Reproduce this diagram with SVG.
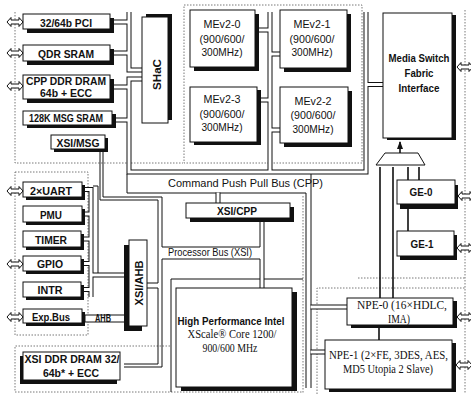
<svg xmlns="http://www.w3.org/2000/svg" width="471" height="394" viewBox="0 0 471 394">
<style>
.bx{fill:#fff;stroke:#111;stroke-width:1}
.sh{fill:#111}
.ln{fill:none;stroke:#111;stroke-width:1}
.bo{fill:none;stroke:#111;stroke-width:5}
.bi{fill:none;stroke:#fff;stroke-width:3}
.dot{fill:none;stroke:#555;stroke-width:0.8;stroke-dasharray:1.5 1.5}
.ar{fill:none;stroke:#111;stroke-width:1.6}
.tb{font-family:"Liberation Sans",Arial,sans-serif;font-weight:bold;font-size:11.5px;text-anchor:middle;fill:#111}
.tr{font-family:"Liberation Sans",Arial,sans-serif;font-size:11.5px;text-anchor:middle;fill:#111}
.ts{font-family:"Liberation Serif","Times New Roman",serif;font-size:12.5px;text-anchor:middle;fill:#111}
</style>
<defs>
<path id="dar" d="M0,0 L4,-4.5 V-2 H12 V-4.5 L16,0 L12,4.5 V2 H4 V4.5 Z" fill="#fff" stroke="#111" stroke-width="1"/>
<marker id="ah" markerUnits="userSpaceOnUse" markerWidth="6" markerHeight="8" refX="3" refY="1" orient="0" viewBox="0 0 6 8"><path d="M3,0 L6,8 L0,8 Z" fill="#111"/></marker>
</defs>
<rect width="471" height="394" fill="#fff"/>

<g id="frames">
<path class="dot" d="M15,12 V163 H183"/>
<rect class="dot" x="184" y="5" width="178" height="158"/>
<rect class="dot" x="15" y="172" width="73" height="163"/>
<path class="dot" d="M170,346 H15 V392 H171"/>
<path class="dot" d="M171,392 H303 M303,196 V394"/>
<path class="dot" d="M317,394 V288 H465"/>
<path class="dot" d="M358,278 H465 M465,10 V394"/>
</g>

<g id="connectors">
<path class="ln" d="M127,174 V193 H306 V388 M311,174 V388"/>
<path class="ln" d="M100,152 V200 H158 V283 H147 M147,288 H158 V364 H124 M124,367 H162 V259 H260 V288 M260,279 H171 V392 M103,152 V197 H162 V247 H260 V222 M264,222 V288 M264,279 H303 M93,186 H98 V273"/>
<g>
<path class="bo" d="M129,12 V70 H142 M114,22 H129 M114,53 H129 M142,79 H129 V172 H366 V12 M114,87 H129 M115,120 H129 M366,84.5 H383 M270,12 V172 M259,30 H270 M261,100 H270 M270,54 H280 M270,130 H280 M310.5,307 H347 M310.5,352 H325 M218,192.5 V203 M84,189.5 H91 V297 M84,214 H91 M84,239 H91 M84,263.5 H91 M84,289.5 H91 M91,275 H129"/>
<path class="bi" d="M129,12 V70 H142 M114,22 H129 M114,53 H129 M142,79 H129 V172 H366 V12 M114,87 H129 M115,120 H129 M366,84.5 H383 M270,12 V172 M259,30 H270 M261,100 H270 M270,54 H280 M270,130 H280 M310.5,307 H347 M310.5,352 H325 M218,192.5 V203 M84,189.5 H91 V297 M84,214 H91 M84,239 H91 M84,263.5 H91 M84,289.5 H91 M91,275 H129"/>
</g>
<path class="ar" d="M380,298 V167 M393,298 V167 M408,231 V167 M419,180 V167 M400,153 V142" marker-end="url(#ah)"/>
<path class="ar" d="M379,328 V340"/>
<polygon points="385,153 418,153 425,165 376,165" fill="#fff" stroke="#111" stroke-width="1"/>
<text class="tr" x="245.5" y="186.5" textLength="155" lengthAdjust="spacingAndGlyphs">Command Push Pull Bus (CPP)</text>
<text class="tr" x="210" y="256" font-size="10.5" textLength="84" lengthAdjust="spacingAndGlyphs">Processor Bus (XSI)</text>
</g>

<g id="pci"><rect class="sh" x="27" y="18" width="87" height="15"/><rect class="bx" x="23" y="14" width="87" height="15"/><text class="tb" x="66" y="26.5" textLength="52" lengthAdjust="spacingAndGlyphs">32/64b PCI</text><use href="#dar" x="7" y="22"/></g>
<g id="qdr"><rect class="sh" x="27" y="49" width="87" height="16"/><rect class="bx" x="23" y="45" width="87" height="16"/><text class="tb" x="66" y="57.5" textLength="56" lengthAdjust="spacingAndGlyphs">QDR SRAM</text><use href="#dar" x="7" y="53"/></g>
<g id="cppddr"><rect class="sh" x="27" y="79" width="87" height="24"/><rect class="bx" x="23" y="75" width="87" height="24"/><text class="tb" x="66" y="84.5" textLength="80" lengthAdjust="spacingAndGlyphs">CPP DDR DRAM</text><text class="tb" x="66" y="97" textLength="52" lengthAdjust="spacingAndGlyphs">64b + ECC</text><use href="#dar" x="7" y="86"/></g>
<g id="msgsram"><rect class="sh" x="27" y="114" width="89" height="14"/><rect class="bx" x="23" y="111" width="89" height="14"/><text class="tb" x="66" y="122" font-size="11" textLength="74" lengthAdjust="spacingAndGlyphs">128K MSG SRAM</text></g>
<g id="xsimsg"><rect class="sh" x="54" y="138" width="54" height="14"/><rect class="bx" x="51" y="135" width="54" height="14"/><text class="tb" x="78" y="146.5" textLength="43" lengthAdjust="spacingAndGlyphs">XSI/MSG</text></g>
<g id="shac"><rect class="sh" x="146" y="14" width="26" height="106"/><rect class="bx" x="142" y="17" width="26" height="106"/><text class="tb" transform="translate(160.5,74.5) rotate(-90)" textLength="31" lengthAdjust="spacingAndGlyphs">SHaC</text></g>

<g id="mev0"><rect class="sh" x="194" y="14" width="65" height="57"/><rect class="bx" x="190" y="10" width="65" height="57"/><text class="tr" x="222" y="28" textLength="37" lengthAdjust="spacingAndGlyphs">MEv2-0</text><text class="tr" x="222" y="42.5" textLength="45" lengthAdjust="spacingAndGlyphs">(900/600/</text><text class="tr" x="222" y="56" textLength="41" lengthAdjust="spacingAndGlyphs">300MHz)</text></g>
<g id="mev1"><rect class="sh" x="284" y="14" width="67" height="58"/><rect class="bx" x="280" y="10" width="67" height="58"/><text class="tr" x="312" y="28" textLength="37" lengthAdjust="spacingAndGlyphs">MEv2-1</text><text class="tr" x="312" y="42.5" textLength="45" lengthAdjust="spacingAndGlyphs">(900/600/</text><text class="tr" x="312" y="56" textLength="41" lengthAdjust="spacingAndGlyphs">300MHz)</text></g>
<g id="mev3"><rect class="sh" x="194" y="90" width="67" height="55"/><rect class="bx" x="190" y="87" width="67" height="55"/><text class="tr" x="222" y="103" textLength="37" lengthAdjust="spacingAndGlyphs">MEv2-3</text><text class="tr" x="222" y="117.5" textLength="45" lengthAdjust="spacingAndGlyphs">(900/600/</text><text class="tr" x="222" y="131" textLength="41" lengthAdjust="spacingAndGlyphs">300MHz)</text></g>
<g id="mev2"><rect class="sh" x="284" y="91" width="68" height="56"/><rect class="bx" x="280" y="87" width="68" height="56"/><text class="tr" x="313" y="105" textLength="37" lengthAdjust="spacingAndGlyphs">MEv2-2</text><text class="tr" x="313" y="119" textLength="45" lengthAdjust="spacingAndGlyphs">(900/600/</text><text class="tr" x="313" y="133" textLength="41" lengthAdjust="spacingAndGlyphs">300MHz)</text></g>

<g id="msf"><rect class="sh" x="387" y="15" width="69" height="125"/><rect class="bx" x="383" y="13" width="69" height="125"/><text class="tb" x="419" y="62" textLength="61" lengthAdjust="spacingAndGlyphs">Media Switch</text><text class="tb" x="419" y="77" textLength="29" lengthAdjust="spacingAndGlyphs">Fabric</text><text class="tb" x="419" y="92" textLength="41" lengthAdjust="spacingAndGlyphs">Interface</text><use href="#dar" x="457" y="67"/></g>
<g id="ge0"><rect class="sh" x="400" y="185" width="58" height="24"/><rect class="bx" x="397" y="180" width="58" height="24"/><text class="tb" x="421" y="195.5" textLength="23" lengthAdjust="spacingAndGlyphs">GE-0</text><use href="#dar" x="458" y="196"/></g>
<g id="ge1"><rect class="sh" x="400" y="235" width="57" height="25"/><rect class="bx" x="397" y="231" width="57" height="25"/><text class="tb" x="422" y="247.5" textLength="23" lengthAdjust="spacingAndGlyphs">GE-1</text><use href="#dar" x="457" y="248"/></g>
<g id="npe0"><rect class="sh" x="351" y="301" width="106" height="27"/><rect class="bx" x="347" y="298" width="106" height="27"/><text class="ts" x="402" y="308.5" textLength="90" lengthAdjust="spacingAndGlyphs">NPE-0 (16×HDLC,</text><text class="ts" x="399" y="323" textLength="22" lengthAdjust="spacingAndGlyphs">IMA)</text><use href="#dar" x="457" y="317"/></g>
<g id="npe1"><rect class="sh" x="329" y="343" width="127" height="49"/><rect class="bx" x="325" y="340" width="127" height="49"/><text class="ts" x="388.5" y="359" textLength="119" lengthAdjust="spacingAndGlyphs">NPE-1 (2×FE, 3DES, AES,</text><text class="ts" x="388" y="373" textLength="90" lengthAdjust="spacingAndGlyphs">MD5 Utopia 2 Slave)</text><use href="#dar" x="456" y="365"/></g>

<g id="xsicpp"><rect class="sh" x="190" y="207" width="104" height="15"/><rect class="bx" x="186" y="203" width="104" height="15"/><text class="tb" x="237" y="215" textLength="40" lengthAdjust="spacingAndGlyphs">XSI/CPP</text></g>
<g id="xscale"><rect class="sh" x="181" y="292" width="116" height="99"/><rect class="bx" x="176" y="288" width="116" height="99"/><text class="tb" x="231" y="325" font-size="10.5" textLength="107" lengthAdjust="spacingAndGlyphs">High Performance Intel</text><text class="ts" x="232" y="337.5" font-size="11.5" textLength="89" lengthAdjust="spacingAndGlyphs">XScale® Core 1200/</text><text class="ts" x="230" y="352" font-size="11.5" textLength="55" lengthAdjust="spacingAndGlyphs">900/600 MHz</text></g>

<g id="uart"><rect class="sh" x="26" y="185" width="59" height="15"/><rect class="bx" x="23" y="182" width="59" height="15"/><text class="tb" x="51" y="195" textLength="42" lengthAdjust="spacingAndGlyphs">2×UART</text><use href="#dar" x="7" y="191"/></g>
<g id="pmu"><rect class="sh" x="26" y="209" width="59" height="16"/><rect class="bx" x="23" y="206" width="59" height="16"/><text class="tb" x="51" y="219" textLength="22" lengthAdjust="spacingAndGlyphs">PMU</text></g>
<g id="timer"><rect class="sh" x="26" y="234" width="58" height="16"/><rect class="bx" x="23" y="231" width="58" height="16"/><text class="tb" x="51" y="243.5" textLength="32" lengthAdjust="spacingAndGlyphs">TIMER</text></g>
<g id="gpio"><rect class="sh" x="26" y="259" width="58" height="15"/><rect class="bx" x="23" y="256" width="58" height="15"/><text class="tb" x="50" y="268" textLength="26" lengthAdjust="spacingAndGlyphs">GPIO</text><use href="#dar" x="7" y="264"/></g>
<g id="intr"><rect class="sh" x="26" y="285" width="58" height="15"/><rect class="bx" x="23" y="282" width="58" height="15"/><text class="tb" x="50" y="293.5" textLength="25" lengthAdjust="spacingAndGlyphs">INTR</text></g>
<g id="expbus"><rect class="sh" x="26" y="312" width="59" height="14"/><rect class="bx" x="23" y="309" width="59" height="14"/><text class="tb" x="51" y="320.5" textLength="38" lengthAdjust="spacingAndGlyphs">Exp.Bus</text><use href="#dar" x="7" y="317"/></g>
<g id="ahb"><rect class="bx" x="85" y="315" width="40" height="7"/><text class="tb" x="103" y="322" font-size="7" textLength="16" lengthAdjust="spacingAndGlyphs">AHB</text></g>
<g id="xsiahb"><rect class="sh" x="124" y="245" width="18" height="86"/><rect class="bx" x="129" y="240" width="18" height="86"/><text class="tb" transform="translate(142.5,283) rotate(-90)" textLength="45" lengthAdjust="spacingAndGlyphs">XSI/AHB</text></g>
<g id="xsiddr"><rect class="sh" x="20" y="356" width="97" height="28"/><rect class="bx" x="23" y="352" width="97" height="28"/><text class="tb" x="72" y="362.5" textLength="95" lengthAdjust="spacingAndGlyphs">XSI DDR DRAM 32/</text><text class="tb" x="71" y="377" textLength="56" lengthAdjust="spacingAndGlyphs">64b* + ECC</text></g>
</svg>
